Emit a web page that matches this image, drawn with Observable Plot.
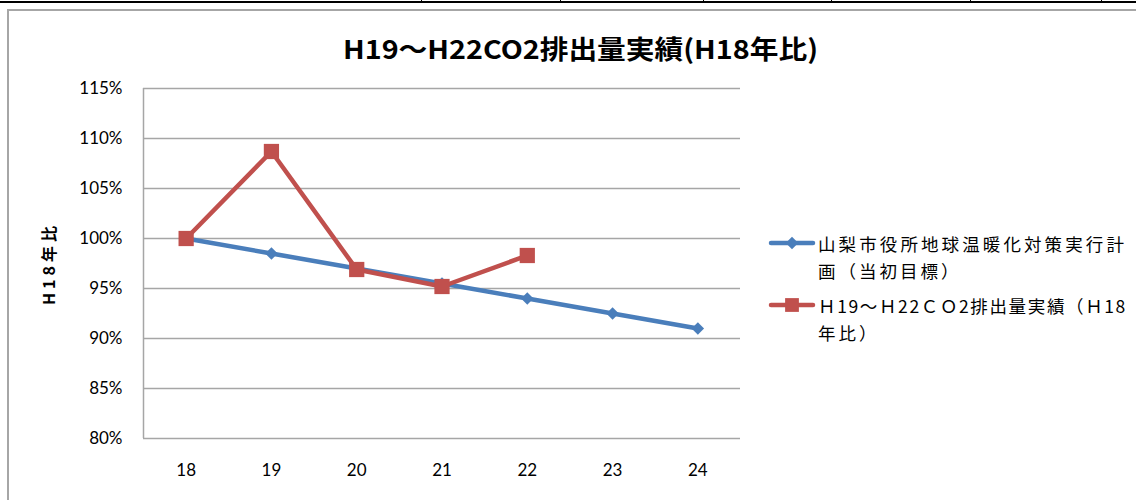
<!DOCTYPE html>
<html>
<head>
<meta charset="utf-8">
<script src="https://cdn.jsdelivr.net/npm/d3@7"></script>
<script src="https://cdn.jsdelivr.net/npm/@observablehq/plot@0.6"></script>
<style>
  html, body { margin: 0; padding: 0; background: #fff; }
  #wrap { position: relative; width: 1136px; height: 500px; overflow: hidden; }
  #wrap svg { position: absolute; left: 0; top: 0; }
  .tline { position: absolute; background: #000; }
  #frame { position: absolute; left: 7px; top: 9px; width: 1140px; height: 500px; border: 2px solid #a6a6a6; box-sizing: border-box; }
  .leg { position: absolute; left: 818px; font-family: "Noto Sans CJK JP", sans-serif; font-size: 17.5px;
         line-height: 27px; color: #000; white-space: nowrap; }
  .legsym { position: absolute; left: 768px; }
  g[aria-label="text"] text { letter-spacing: 4px; }
</style>
</head>
<body>
<div id="wrap">
  <div class="tline" style="left:0;top:1px;width:1136px;height:2px"></div>
  <div id="frame"></div>
  <div id="legend"></div>
</div>
<script>
// ---- data ----
const chartTitle = "H19～H22CO2排出量実績(H18年比)";
const yAxisLabel = "H18年比";
const years = [18, 19, 20, 21, 22, 23, 24];
const planName = ["山梨市役所地球温暖化対策実行計", "画（当初目標）"];
const planValues = [1.00, 0.985, 0.97, 0.955, 0.94, 0.925, 0.91];
const actualName = ["Ｈ19～Ｈ22ＣＯ2排出量実績（Ｈ18", "年比）"];
const actualYears = [18, 19, 20, 21, 22];
const actualValues = [1.00, 1.087, 0.969, 0.952, 0.983];
const yTicks = [0.80, 0.85, 0.90, 0.95, 1.00, 1.05, 1.10, 1.15];
const tableDividers = [421, 560, 703, 831, 970, 1101];

const blue = "#4a7ebb";
const red = "#c0504d";
const grid = "#a6a6a6";

const plan = years.map((y, i) => ({year: y, value: planValues[i]}));
const actual = actualYears.map((y, i) => ({year: y, value: actualValues[i]}));

const wrap = document.getElementById("wrap");

// decorative table divider ticks at the top of the page
for (const x of tableDividers) {
  const d = document.createElement("div");
  d.className = "tline";
  d.style.cssText = `left:${x}px;top:0;width:1px;height:2px`;
  wrap.appendChild(d);
}

const chart = Plot.plot({
  width: 1136,
  height: 500,
  marginLeft: 143,
  marginRight: 396,
  marginTop: 88,
  marginBottom: 62,
  style: {background: "transparent", fontFamily: "Lato, sans-serif", fontSize: "17px", color: "#000"},
  x: {type: "linear", domain: [17.5, 24.5]},
  y: {domain: [0.80, 1.15]},
  marks: [
    Plot.gridY(yTicks, {stroke: grid, strokeOpacity: 1, strokeWidth: 1.3}),
    Plot.ruleX([17.5], {stroke: grid, strokeWidth: 1.5}),
    Plot.axisY(yTicks, {tickSize: 0, tickPadding: 21, tickFormat: d3.format(".0%"), label: null, fontSize: 17}),
    Plot.axisX(years, {tickSize: 0, tickPadding: 25, tickFormat: d => String(d), label: null, fontSize: 17}),
    Plot.text([yAxisLabel], {frameAnchor: "left", dx: -94, rotate: -90, textAnchor: "middle", fontWeight: "bold", fontSize: 16,
      fontFamily: "Noto Sans CJK JP, sans-serif", fill: "#000"}),
    Plot.line(plan, {x: "year", y: "value", stroke: blue, strokeWidth: 4.5, strokeLinejoin: "round", strokeLinecap: "round"}),
    Plot.dot(plan, {x: "year", y: "value", symbol: "diamond2", r: 5.6, fill: blue, stroke: "none"}),
    Plot.line(actual, {x: "year", y: "value", stroke: red, strokeWidth: 4.5, strokeLinejoin: "round", strokeLinecap: "round"}),
    Plot.dot(actual, {x: "year", y: "value", symbol: "square", r: 8.6, fill: red, stroke: "none"})
  ]
});
wrap.insertBefore(chart, document.getElementById("frame").nextSibling);

// title
const tsvg = d3.create("svg").attr("width", 1136).attr("height", 80).style("position", "absolute").style("left", 0).style("top", 0);
tsvg.append("text").attr("x", 580.5).attr("y", 47).attr("text-anchor", "middle").attr("dominant-baseline", "central")
  .attr("font-family", "Noto Sans CJK JP, sans-serif").attr("font-weight", "bold").attr("font-size", 26)
  .attr("textLength", 475).attr("lengthAdjust", "spacingAndGlyphs").text(chartTitle);
wrap.appendChild(tsvg.node());

// legend
const legend = document.getElementById("legend");
const legendTextWidth = 309;
function addLegend(lines, color, symbol, yCenter) {
  const s = d3.create("svg").attr("class", "legsym").attr("width", 48).attr("height", 20)
    .style("top", (yCenter - 10) + "px").style("left", "768px");
  s.append("line").attr("x1", 3).attr("x2", 45).attr("y1", 10).attr("y2", 10)
    .attr("stroke", color).attr("stroke-width", 4.5).attr("stroke-linecap", "round");
  s.append("path").attr("transform", "translate(24,10)")
    .attr("d", d3.symbol(symbol === "square" ? d3.symbolSquare : d3.symbolDiamond2, symbol === "square" ? 190 : 100)())
    .attr("fill", color);
  legend.appendChild(s.node());
  lines.forEach((line, i) => {
    const t = document.createElement("div");
    t.className = "leg";
    t.style.top = (yCenter - 13.5 + i * 27) + "px";
    t.textContent = line;
    legend.appendChild(t);
    if (i === 0) {
      const w = t.getBoundingClientRect().width;
      const n = [...line].length;
      t.dataset.sp = ((legendTextWidth - w) / n).toFixed(2);
      t.style.letterSpacing = t.dataset.sp + "px";
      t.parentNode.dataset.sp = t.dataset.sp;
    } else {
      t.style.letterSpacing = "3px";
    }
  });
}
addLegend(planName, blue, "diamond", 243);
addLegend(actualName, red, "square", 305);
</script>
</body>
</html>
